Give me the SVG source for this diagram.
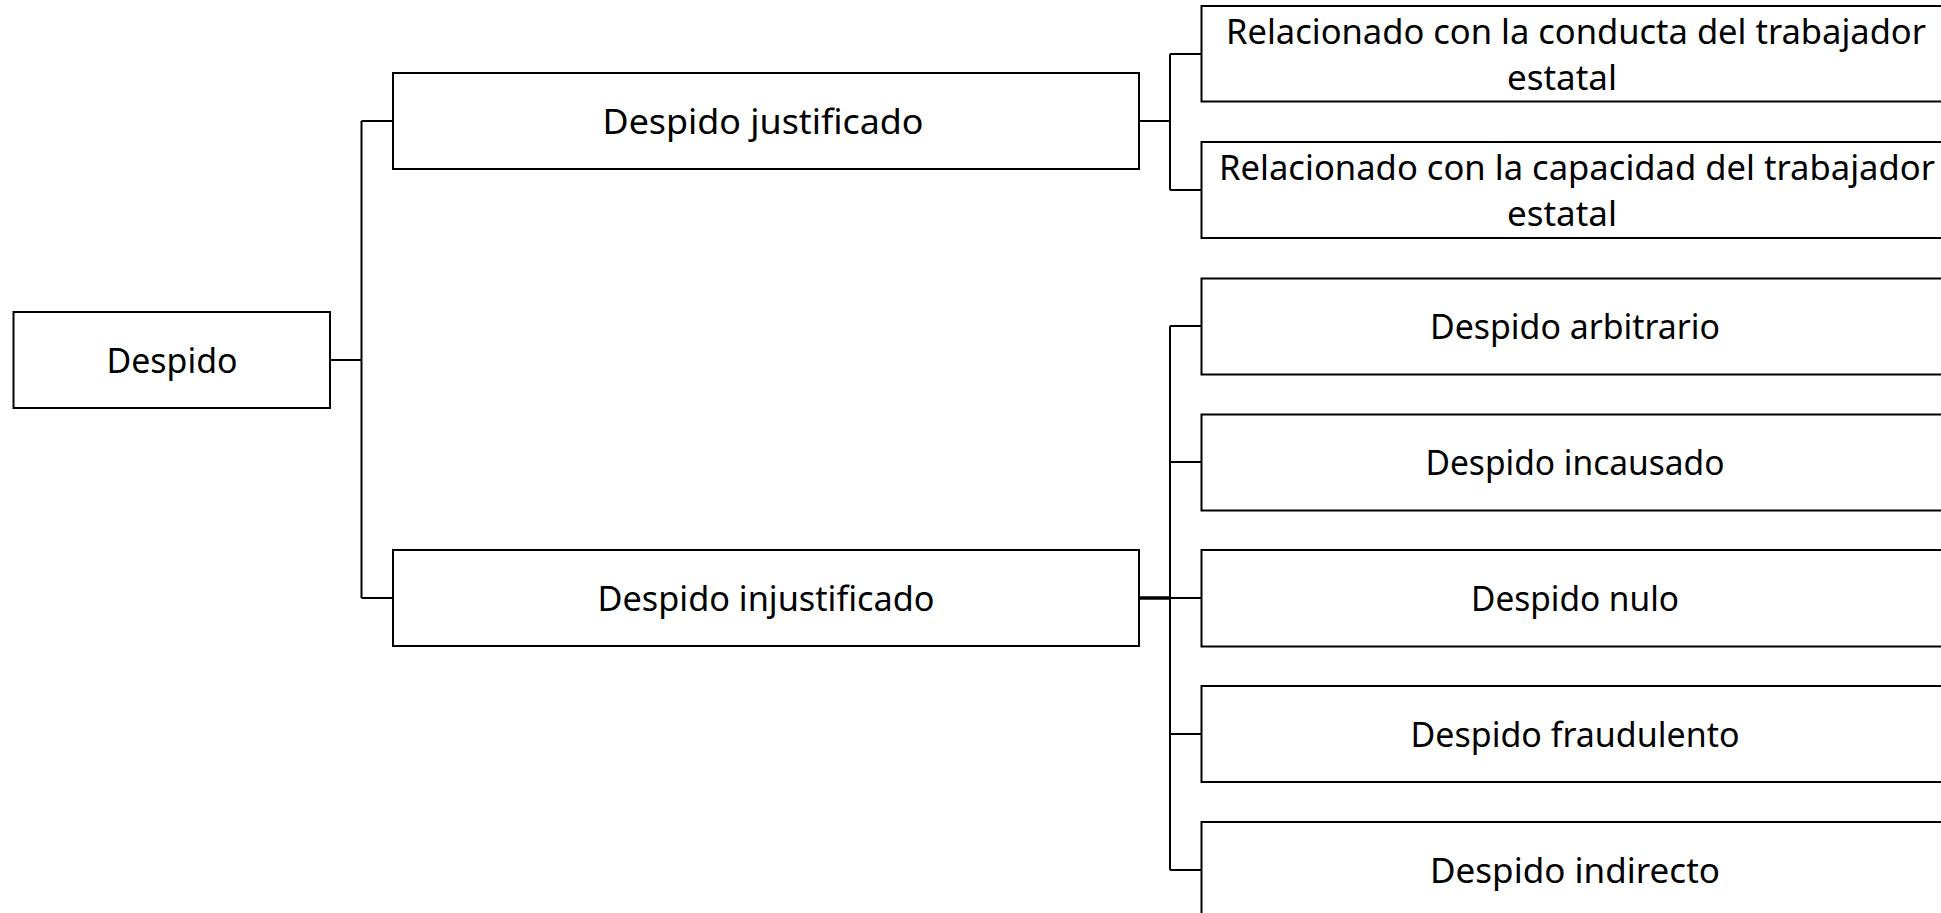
<svg xmlns="http://www.w3.org/2000/svg" width="1941" height="913" viewBox="0 0 1941 913">
<style>
.box{fill:#fff;stroke:#000;stroke-width:2}
.ln{fill:none;stroke:#000;stroke-width:2}
text{font-family:"Noto Sans","Open Sans","Liberation Sans",sans-serif;font-size:35px;fill:#000;text-anchor:middle}
</style>
<rect width="1941" height="913" fill="#fff"/>
<g id="connectors">
<path class="ln" d="M330 360H361.5M361.5 121V598M361.5 121H393M361.5 598H393"/>
<path class="ln" d="M1139 121H1170M1170 54V190M1170 54H1201.5M1170 190H1201.5"/>
<path class="ln" d="M1170 326V870M1170 326H1201.5M1170 462H1201.5M1170 598H1201.5M1170 734H1201.5M1170 870H1201.5"/>
<path class="ln" style="stroke-width:3.5" d="M1139 598H1170"/>
</g>
<g id="n-despido"><rect class="box" x="13.5" y="312" width="316.5" height="96"/><text x="172" y="372.5" textLength="131" lengthAdjust="spacingAndGlyphs">Despido</text></g>
<g id="n-justificado"><rect class="box" x="393" y="73" width="746" height="96"/><text x="763" y="133.5" textLength="321" lengthAdjust="spacingAndGlyphs">Despido justificado</text></g>
<g id="n-injustificado"><rect class="box" x="393" y="550" width="746" height="96"/><text x="766" y="610.5" textLength="337" lengthAdjust="spacingAndGlyphs">Despido injustificado</text></g>
<g id="n-conducta"><rect class="box" x="1201.5" y="6" width="750" height="95.5"/><text x="1576" y="43.5" textLength="700" lengthAdjust="spacingAndGlyphs">Relacionado con la conducta del trabajador</text><text x="1562" y="89.5">estatal</text></g>
<g id="n-capacidad"><rect class="box" x="1201.5" y="142" width="750" height="96"/><text x="1577" y="179.5" textLength="716" lengthAdjust="spacingAndGlyphs">Relacionado con la capacidad del trabajador</text><text x="1562" y="226">estatal</text></g>
<g id="n-arbitrario"><rect class="box" x="1201.5" y="278.5" width="750" height="96"/><text x="1575" y="338.5" textLength="290" lengthAdjust="spacingAndGlyphs">Despido arbitrario</text></g>
<g id="n-incausado"><rect class="box" x="1201.5" y="414.5" width="750" height="96"/><text x="1575" y="474.5" textLength="299" lengthAdjust="spacingAndGlyphs">Despido incausado</text></g>
<g id="n-nulo"><rect class="box" x="1201.5" y="550" width="750" height="96.5"/><text x="1575" y="610.5" textLength="208" lengthAdjust="spacingAndGlyphs">Despido nulo</text></g>
<g id="n-fraudulento"><rect class="box" x="1201.5" y="686" width="750" height="96"/><text x="1575" y="746.5" textLength="329" lengthAdjust="spacingAndGlyphs">Despido fraudulento</text></g>
<g id="n-indirecto"><rect class="box" x="1201.5" y="822" width="750" height="96"/><text x="1575" y="882.5" textLength="290" lengthAdjust="spacingAndGlyphs">Despido indirecto</text></g>
</svg>
